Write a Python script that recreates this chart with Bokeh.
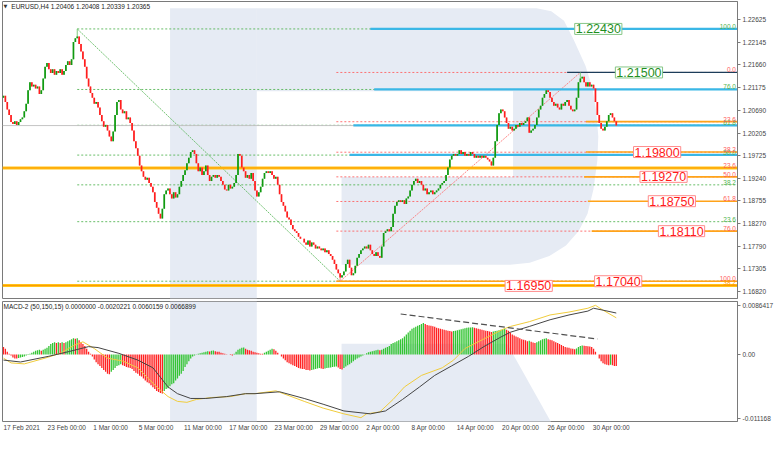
import numpy as np
from bokeh.plotting import figure
from bokeh.models import Range1d, FixedTicker, Label, NumeralTickFormatter
from bokeh.layouts import column
from bokeh.embed import file_html
from bokeh.resources import INLINE
from bokeh.core.properties import value

# ---------------- DATA ----------------
# H4 closes, EURUSD, 17 Feb 2021 -> 3 May 2021 (one value per bar)
closes = [
    1.2100, 1.2087, 1.2071, 1.2059, 1.2044, 1.2040, 1.2046, 1.2038, 1.2044, 1.2050,
    1.2054, 1.2067, 1.2083, 1.2112, 1.2129, 1.2120, 1.2124, 1.2116, 1.2120, 1.2104,
    1.2112, 1.2137, 1.2162, 1.2170, 1.2157, 1.2149, 1.2157, 1.2145, 1.2153, 1.2149,
    1.2157, 1.2145, 1.2153, 1.2166, 1.2174, 1.2166, 1.2178, 1.2215, 1.2223, 1.2227,
    1.2211, 1.2195, 1.2178, 1.2162, 1.2137, 1.2120, 1.2106, 1.2096, 1.2083, 1.2087,
    1.2075, 1.2059, 1.2046, 1.2034, 1.2038, 1.2026, 1.2013, 1.2003, 1.2024, 1.2059,
    1.2087, 1.2091, 1.2071, 1.2063, 1.2067, 1.2050, 1.2054, 1.2042, 1.2026, 1.2003,
    1.1988, 1.1972, 1.1951, 1.1939, 1.1927, 1.1921, 1.1925, 1.1914, 1.1906, 1.1894,
    1.1873, 1.1861, 1.1848, 1.1838, 1.1859, 1.1890, 1.1898, 1.1902, 1.1890, 1.1881,
    1.1894, 1.1883, 1.1890, 1.1906, 1.1918, 1.1931, 1.1941, 1.1956, 1.1968, 1.1980,
    1.1984, 1.1976, 1.1956, 1.1939, 1.1947, 1.1931, 1.1939, 1.1951, 1.1931, 1.1918,
    1.1927, 1.1931, 1.1925, 1.1931, 1.1927, 1.1918, 1.1910, 1.1900, 1.1898, 1.1910,
    1.1902, 1.1906, 1.1914, 1.1931, 1.1976, 1.1972, 1.1947, 1.1939, 1.1925, 1.1931,
    1.1923, 1.1935, 1.1918, 1.1898, 1.1885, 1.1894, 1.1906, 1.1923, 1.1935, 1.1939,
    1.1935, 1.1939, 1.1931, 1.1923, 1.1927, 1.1910, 1.1890, 1.1873, 1.1865, 1.1853,
    1.1840, 1.1836, 1.1824, 1.1815, 1.1811, 1.1807, 1.1799, 1.1795, 1.1795, 1.1787,
    1.1782, 1.1791, 1.1778, 1.1787, 1.1782, 1.1774, 1.1778, 1.1774, 1.1770, 1.1774,
    1.1766, 1.1770, 1.1762, 1.1758, 1.1750, 1.1741, 1.1729, 1.1721, 1.1712, 1.1717,
    1.1725, 1.1741, 1.1750, 1.1733, 1.1717, 1.1721, 1.1737, 1.1754, 1.1762, 1.1770,
    1.1774, 1.1778, 1.1774, 1.1782, 1.1770, 1.1762, 1.1758, 1.1766, 1.1758, 1.1754,
    1.1778, 1.1807, 1.1811, 1.1815, 1.1811, 1.1820, 1.1848, 1.1865, 1.1873, 1.1877,
    1.1873, 1.1877, 1.1869, 1.1881, 1.1885, 1.1898, 1.1910, 1.1918, 1.1923, 1.1914,
    1.1918, 1.1910, 1.1898, 1.1902, 1.1890, 1.1894, 1.1898, 1.1890, 1.1894, 1.1898,
    1.1902, 1.1910, 1.1914, 1.1918, 1.1931, 1.1947, 1.1964, 1.1972, 1.1976, 1.1972,
    1.1976, 1.1984, 1.1976, 1.1980, 1.1972, 1.1976, 1.1972, 1.1980, 1.1976, 1.1968,
    1.1972, 1.1968, 1.1972, 1.1968, 1.1972, 1.1968, 1.1964, 1.1960, 1.1951, 1.1968,
    1.2003, 1.2038, 1.2063, 1.2071, 1.2067, 1.2054, 1.2042, 1.2030, 1.2034, 1.2026,
    1.2030, 1.2038, 1.2034, 1.2042, 1.2038, 1.2042, 1.2046, 1.2054, 1.2021, 1.2026,
    1.2030, 1.2038, 1.2054, 1.2071, 1.2079, 1.2096, 1.2104, 1.2112, 1.2108, 1.2096,
    1.2087, 1.2079, 1.2083, 1.2075, 1.2071, 1.2083, 1.2079, 1.2087, 1.2091, 1.2079,
    1.2071, 1.2067, 1.2071, 1.2096, 1.2129, 1.2137, 1.2141, 1.2129, 1.2120, 1.2129,
    1.2120, 1.2124, 1.2116, 1.2087, 1.2059, 1.2042, 1.2030, 1.2026, 1.2034, 1.2046,
    1.2059, 1.2063, 1.2054, 1.2046, 1.20365,
]
first_open = 1.2096
swing_high_bars = [39, 305]
swing_high_prices = [1.2243, 1.2150]
swing_low_bars = [178]
swing_low_prices = [1.1704]

# MACD-2 (50,150,15) histogram, one value per bar
macd_hist = [
    0.00134, 0.00101, 0.00050, 0.00017, -0.00017, -0.00050, -0.00067, -0.00067, -0.00059, -0.00050,
    -0.00042, -0.00034, -0.00017, -0.00008, 0.00017, 0.00034, 0.00050, 0.00067, 0.00076, 0.00084,
    0.00067, 0.00084, 0.00101, 0.00118, 0.00151, 0.00185, 0.00202, 0.00218, 0.00202, 0.00218,
    0.00202, 0.00218, 0.00202, 0.00218, 0.00235, 0.00252, 0.00269, 0.00286, 0.00277, 0.00286,
    0.00252, 0.00218, 0.00185, 0.00151, 0.00101, 0.00050, 0.00017, -0.00034, -0.00084, -0.00134,
    -0.00168, -0.00202, -0.00235, -0.00269, -0.00302, -0.00336, -0.00344, -0.00302, -0.00269, -0.00235,
    -0.00202, -0.00185, -0.00168, -0.00185, -0.00202, -0.00218, -0.00227, -0.00235, -0.00252, -0.00286,
    -0.00319, -0.00336, -0.00370, -0.00386, -0.00420, -0.00454, -0.00487, -0.00504, -0.00538, -0.00571,
    -0.00605, -0.00638, -0.00655, -0.00672, -0.00680, -0.00638, -0.00605, -0.00588, -0.00554, -0.00521,
    -0.00504, -0.00454, -0.00420, -0.00370, -0.00336, -0.00286, -0.00218, -0.00168, -0.00118, -0.00067,
    -0.00034, -0.00017, 0.00008, 0.00017, 0.00025, 0.00034, 0.00042, 0.00050, 0.00059, 0.00055,
    0.00067, 0.00071, 0.00059, 0.00050, 0.00050, 0.00034, 0.00025, 0.00017, 0.00008, 0.00000,
    -0.00008, -0.00017, 0.00017, 0.00050, 0.00084, 0.00101, 0.00118, 0.00123, 0.00101, 0.00084,
    0.00076, 0.00067, 0.00050, 0.00042, 0.00034, 0.00025, 0.00017, 0.00017, 0.00034, 0.00050,
    0.00067, 0.00084, 0.00101, 0.00092, 0.00067, 0.00034, 0.00000, -0.00034, -0.00067, -0.00101,
    -0.00134, -0.00151, -0.00168, -0.00185, -0.00202, -0.00218, -0.00235, -0.00244, -0.00252, -0.00252,
    -0.00269, -0.00269, -0.00277, -0.00272, -0.00260, -0.00252, -0.00244, -0.00235, -0.00244, -0.00252,
    -0.00244, -0.00235, -0.00232, -0.00227, -0.00218, -0.00215, -0.00210, -0.00227, -0.00252, -0.00260,
    -0.00235, -0.00210, -0.00185, -0.00168, -0.00143, -0.00118, -0.00092, -0.00067, -0.00050, -0.00034,
    -0.00017, 0.00008, 0.00025, 0.00042, 0.00050, 0.00059, 0.00067, 0.00076, 0.00084, 0.00076,
    0.00084, 0.00101, 0.00118, 0.00134, 0.00151, 0.00185, 0.00202, 0.00218, 0.00235, 0.00252,
    0.00269, 0.00286, 0.00319, 0.00353, 0.00386, 0.00420, 0.00454, 0.00470, 0.00487, 0.00504,
    0.00521, 0.00538, 0.00554, 0.00538, 0.00521, 0.00512, 0.00504, 0.00496, 0.00487, 0.00470,
    0.00462, 0.00454, 0.00445, 0.00437, 0.00428, 0.00420, 0.00412, 0.00403, 0.00412, 0.00420,
    0.00428, 0.00437, 0.00445, 0.00454, 0.00462, 0.00470, 0.00474, 0.00477, 0.00479, 0.00470,
    0.00462, 0.00454, 0.00445, 0.00437, 0.00428, 0.00420, 0.00412, 0.00403, 0.00395, 0.00403,
    0.00412, 0.00420, 0.00428, 0.00437, 0.00445, 0.00454, 0.00437, 0.00420, 0.00386, 0.00353,
    0.00336, 0.00319, 0.00302, 0.00286, 0.00269, 0.00260, 0.00252, 0.00235, 0.00244, 0.00227,
    0.00210, 0.00202, 0.00218, 0.00235, 0.00252, 0.00269, 0.00277, 0.00286, 0.00269, 0.00260,
    0.00252, 0.00235, 0.00218, 0.00202, 0.00185, 0.00168, 0.00151, 0.00134, 0.00126, 0.00118,
    0.00109, 0.00101, 0.00092, 0.00109, 0.00134, 0.00151, 0.00160, 0.00156, 0.00151, 0.00148,
    0.00143, 0.00134, 0.00101, 0.00050, 0.00000, -0.00067, -0.00118, -0.00151, -0.00168, -0.00176,
    -0.00185, -0.00176, -0.00185, -0.00202, -0.00202,
]
macd_main_bars = [0, 9, 24, 35, 45, 50, 61, 71, 79, 87, 92, 99, 107, 118, 128, 133, 146, 159, 169, 180,
                  194, 202, 211, 220, 228, 237, 246, 254, 263, 268, 278, 289, 299, 309, 312, 317, 324]
macd_main = [-0.00096, -0.0013, -0.00029, 0.00056, 0.0014, 0.00123, 0.00022, -0.00096, -0.00231, -0.00567,
             -0.00685, -0.00769, -0.00769, -0.00736, -0.00685, -0.00685, -0.00652, -0.00769, -0.0087, -0.00988,
             -0.01039, -0.00988, -0.00786, -0.00567, -0.00365, -0.00197, -0.00029, 0.0014, 0.00308, 0.00392,
             0.00493, 0.00611, 0.00695, 0.00763, 0.00813, 0.00779, 0.00729]
macd_sig_bars = [0, 4, 11, 22, 30, 37, 42, 48, 55, 63, 71, 76, 81, 87, 92, 97, 102, 110, 120, 128,
                 133, 144, 159, 169, 180, 189, 192, 199, 206, 212, 221, 232, 238, 244, 254, 264, 268, 278,
                 289, 299, 309, 313, 317, 324]
macd_signal = [-0.00062, -0.00146, -0.00163, -0.00062, 0.00022, 0.00157, 0.00224, 0.00106, -0.00062, -0.00113,
               -0.00231, -0.00399, -0.00567, -0.00736, -0.0082, -0.00837, -0.00786, -0.00753, -0.00736, -0.00685,
               -0.00685, -0.00635, -0.0082, -0.00938, -0.01039, -0.01106, -0.01039, -0.01005, -0.00786, -0.00567,
               -0.00365, -0.00231, -0.00096, 0.00106, 0.00274, 0.00443, 0.00493, 0.00577, 0.00695, 0.00746,
               0.00813, 0.00864, 0.00779, 0.00645]
div_bars = [210, 314]
div_vals = [0.00712, 0.00274]

# fibonacci retracements (anchors)
fib_levels = [0.0, 23.6, 38.2, 50.0, 61.8, 76.0, 100.0]
gfib_bars = [39, 178]
gfib_prices = [1.2243, 1.1704]
rfib_bars = [178, 305]
rfib_prices = [1.1704, 1.2150]
rfib_line_start = 176

# horizontal levels
blue_levels = [1.2243, 1.2114, 1.2037, 1.1974]
blue_start = [194, 196, 185, 183]
dark_level = 1.2150
dark_start = 298
orange_levels = [1.2045, 1.1980, 1.1927, 1.1875, 1.1811, 1.1704]
orange_start = [308, 308, 307, 309, 311, 176]
gold_levels = [1.1946, 1.1695]
gold_labels = ["23.6", "38.2"]
box_texts = ["1.22430", "1.21500", "1.19800", "1.19270", "1.18750", "1.18110", "1.17040", "1.16950"]
box_prices = [1.2243, 1.2150, 1.1980, 1.1927, 1.1875, 1.1811, 1.1704, 1.1694]
box_bars = [314.5, 336, 345.6, 349, 353.4, 358.5, 325, 277.7]
box_green = [True, True, False, False, False, False, False, False]
current_price = 1.20365

price_ticks = [1.22625, 1.22145, 1.21660, 1.21175, 1.20690, 1.20205, 1.19725, 1.19240,
               1.18755, 1.18270, 1.17790, 1.17305, 1.16820]
macd_ticks = [0.0086417, 0.0, -0.011168]
macd_tick_labels = ["0.0086417", "0.00", "-0.011168"]
date_bars = [0, 23, 47, 71, 95, 119, 143, 167, 191, 215, 239, 263, 287, 311]
date_labels = ["17 Feb 2021", "23 Feb 00:00", "1 Mar 00:00", "5 Mar 00:00", "11 Mar 00:00",
               "17 Mar 00:00", "23 Mar 00:00", "29 Mar 00:00", "2 Apr 00:00", "8 Apr 00:00",
               "14 Apr 00:00", "20 Apr 00:00", "26 Apr 00:00", "30 Apr 00:00"]
title_main = "EURUSD,H4  1.20406 1.20408 1.20339 1.20365"
title_macd = "MACD-2 (50,150,15) 0.0000000 -0.0020221 0.0060159 0.0066899"

# ---------------- GEOMETRY / STYLE ----------------
X0, X1 = -0.52, 388.1
PMAX, PMIN = 1.23016, 1.16671
MMAX, MMIN = 0.00931, -0.01173
FONT_NAME = "Liberation Sans"
FONT = value(FONT_NAME)
SMALL = "6.5px"

# watermark helpers (reference-pixel outline of the background "R" logo)
def bx(px):
    return (px - 3.0) / 1.93

def bp(py):
    return 1.23016 - 0.000206 * py

def bm(py):
    return (366.3 - py) / 5940.0

WM = "#e6ebf4"

xr = Range1d(X0, X1)

p1 = figure(frame_width=735, frame_height=297, x_range=xr, y_range=Range1d(PMIN, PMAX),
            x_axis_location=None, y_axis_location="right", output_backend="svg",
            toolbar_location=None, min_border_left=2, min_border_right=0,
            min_border_top=1, min_border_bottom=1)
p1.grid.visible = False
p1.outline_line_color = "#7a7a7a"
p1.background_fill_color = "white"

# watermark
p1.quad(left=[bx(173)], right=[bx(261.5)], top=[bp(7)], bottom=[PMIN], color=WM, line_color=None)
bowl = [(261, 7), (547, 7), (562, 10), (575, 20), (585, 40), (597, 67), (604, 90), (608, 115),
        (610, 140), (609, 165), (605, 195), (599, 220), (590, 238), (577, 253), (560, 264),
        (540, 271), (520, 273), (348, 273), (348, 182), (523, 182), (523, 93), (261, 93)]
p1.patch([bx(a) for a, b in bowl], [bp(b) for a, b in bowl], color=WM, line_color=None)

# fib lines
g_lo, g_hi = gfib_prices[1], gfib_prices[0]
r_lo, r_hi = rfib_prices[0], rfib_prices[1]
for lv in fib_levels:
    gp = g_lo + lv / 100.0 * (g_hi - g_lo)
    p1.line([gfib_bars[0], X1], [gp, gp], color="#4fb34f", line_dash="2 2", line_width=1, alpha=0.85)
    rp = r_hi - lv / 100.0 * (r_hi - r_lo)
    p1.line([rfib_line_start, X1], [rp, rp], color="#ff5c5c", line_dash="2 2", line_width=1, alpha=0.85)
p1.line(gfib_bars, gfib_prices, color="#4fb34f", line_dash="2 1", line_width=1, alpha=0.8)
p1.line(rfib_bars, rfib_prices, color="#ff6a6a", line_dash="2 1", line_width=1, alpha=0.8)

# current price line
p1.line([X0, X1], [current_price, current_price], color="#c4c4c4", line_width=1)

# gold full-width lines
for gl in gold_levels:
    p1.line([X0, X1], [gl, gl], color="#ffc61a", line_width=3)
    p1.line([X0, X1], [gl, gl], color="#ff9900", line_width=1)

# blue levels
for lv, st in zip(blue_levels, blue_start):
    p1.line([st, X1], [lv, lv], color="#3ab7e6", line_width=2.2)
# orange levels
for lv, st in zip(orange_levels, orange_start):
    p1.line([st, X1], [lv, lv], color="#ffa31a", line_width=1.6)
# dark level
p1.line([dark_start, X1], [dark_level, dark_level], color="#1c3d5a", line_width=1.2)

# candles
c = np.array(closes)
o = np.concatenate([[first_open], c[:-1]])
hi = np.maximum(o, c)
lo = np.minimum(o, c)
for b, v in zip(swing_high_bars, swing_high_prices):
    hi[b] = v
for b, v in zip(swing_low_bars, swing_low_prices):
    lo[b] = v
xs = np.arange(len(c))
up = c >= o
body_col = np.where(up, "#109a10", "#ff1e1e")
wick_col = np.where(up, "#7ccb7c", "#ff8a8a")
p1.segment(x0=xs, y0=lo, x1=xs, y1=hi, color=wick_col, line_width=1)
p1.segment(x0=xs, y0=o, x1=xs, y1=c, color=body_col, line_width=1.7)

# fib level labels
lbl_x = X1 - 0.8
for lv in fib_levels[1:]:
    gp = g_lo + lv / 100.0 * (g_hi - g_lo)
    p1.text(x=[lbl_x], y=[gp], text=["%.1f" % lv], text_align="right", text_baseline="bottom",
            text_font_size=SMALL, text_color="#4fb34f", text_font=FONT)
for lv in fib_levels:
    rp = r_hi - lv / 100.0 * (r_hi - r_lo)
    p1.text(x=[lbl_x], y=[rp], text=["%.1f" % lv], text_align="right", text_baseline="bottom",
            text_font_size=SMALL, text_color="#ff5c5c", text_font=FONT)
for gl, gt, gc in zip(gold_levels, gold_labels, ["#ff5c5c", "#ff9900"]):
    p1.text(x=[lbl_x], y=[gl], text=[gt], text_align="right", text_baseline="bottom",
            text_font_size=SMALL, text_color=gc, text_font=FONT)

# boxed price labels
for t, pr, bb, g in zip(box_texts, box_prices, box_bars, box_green):
    p1.add_layout(Label(x=bb, y=pr, text=t, text_align="center", text_baseline="middle",
                        text_font_size="12.5px", text_font=FONT_NAME,
                        text_color="#1f8f1f" if g else "#ff1a1a",
                        background_fill_color="white", background_fill_alpha=1.0,
                        border_line_color="#86c686" if g else "#ff8c8c", border_line_width=1,
                        padding=1))

# title
p1.text(x=[bx(3)], y=[bp(2)], text=["\u25bc"], text_baseline="top", text_font_size="5px",
        text_color="#333333", text_font=value("DejaVu Sans"))
p1.text(x=[bx(11)], y=[bp(1.5)], text=[title_main], text_baseline="top", text_font_size=SMALL,
        text_color="#222222", text_font=FONT)

# current price box on axis
p1.add_layout(Label(x=X1, y=current_price, x_offset=1, text="1.20365", text_align="left",
                    text_baseline="middle", text_font_size=SMALL, text_font=FONT_NAME,
                    text_color="white", background_fill_color="black", background_fill_alpha=1.0))

p1.yaxis.ticker = FixedTicker(ticks=price_ticks)
p1.yaxis.formatter = NumeralTickFormatter(format="0.00000")
for ax in [p1.yaxis]:
    ax.major_label_text_font_size = SMALL
    ax.major_label_text_font = FONT_NAME
    ax.major_tick_out = 3
    ax.major_tick_in = 0
    ax.minor_tick_out = 0
    ax.minor_tick_in = 0
    ax.axis_line_color = "#7a7a7a"
    ax.major_tick_line_color = "#7a7a7a"
    ax.major_label_standoff = 2

# ---------------- MACD PANEL ----------------
p2 = figure(frame_width=735, frame_height=120, x_range=xr, y_range=Range1d(MMIN, MMAX),
            x_axis_location="below", y_axis_location="right", output_backend="svg",
            toolbar_location=None, min_border_left=2, min_border_right=0,
            min_border_top=2, min_border_bottom=0)
p2.grid.visible = False
p2.outline_line_color = "#7a7a7a"

p2.quad(left=[bx(173)], right=[bx(261.5)], top=[MMAX], bottom=[MMIN], color=WM, line_color=None)
leg = [(348, 355), (517, 355), (562, 437), (348, 437)]
p2.patch([bx(a) for a, b in leg], [bm(b) for a, b in leg], color=WM, line_color=None)

h = np.array(macd_hist)
hcol = []
prev_col = "#ff2222"
for i in range(len(h)):
    if i > 0 and h[i] > h[i - 1]:
        prev_col = "#33c433"
    elif i > 0 and h[i] < h[i - 1]:
        prev_col = "#ff2222"
    hcol.append(prev_col)
p2.vbar(x=np.arange(len(h)), top=h, bottom=0, width=0.68, color=hcol, line_color=None)

p2.line(macd_sig_bars, macd_signal, color="#f0cc3c", line_width=1)
p2.line(macd_main_bars, macd_main, color="#454545", line_width=1)
p2.line(div_bars, div_vals, color="#505050", line_dash="6 3", line_width=1.2)

p2.text(x=[bx(3)], y=[bm(312.5)], text=[title_macd], text_baseline="top", text_font_size=SMALL,
        text_color="#222222", text_font=FONT)

p2.yaxis.ticker = FixedTicker(ticks=macd_ticks)
p2.yaxis.major_label_overrides = {t: s for t, s in zip(macd_ticks, macd_tick_labels)}
label_pos = [b + (1 + len(s) * 1.6) / 1.93 for b, s in zip(date_bars, date_labels)]
p2.xaxis.ticker = FixedTicker(ticks=label_pos)
p2.xaxis.major_label_overrides = {t: s for t, s in zip(label_pos, date_labels)}
for ax in [p2.yaxis, p2.xaxis]:
    ax.major_label_text_font_size = SMALL
    ax.major_label_text_font = FONT_NAME
    ax.minor_tick_out = 0
    ax.minor_tick_in = 0
    ax.major_tick_in = 0
    ax.axis_line_color = "#7a7a7a"
    ax.major_tick_line_color = "#7a7a7a"
    ax.major_label_standoff = 2
p2.yaxis.major_tick_out = 3
p2.xaxis.major_tick_out = 0
p2.xaxis.axis_line_color = None

layout = column(p1, p2, spacing=0)
open("out.html", "w").write(file_html(layout, INLINE))
